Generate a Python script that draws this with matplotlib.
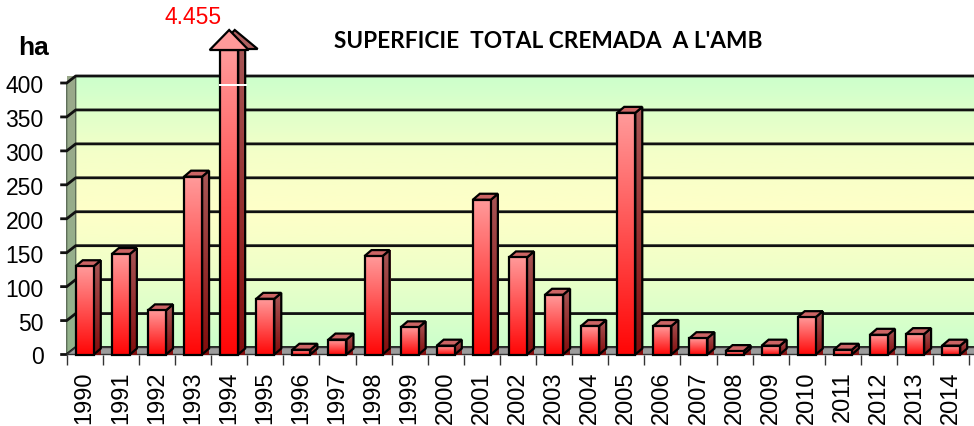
import numpy as np
import matplotlib
matplotlib.use("Agg")
import matplotlib.pyplot as plt
from matplotlib.patches import Polygon, Rectangle
from matplotlib.colors import LinearSegmentedColormap

# ---- data -------------------------------------------------------------
years = [str(y) for y in range(1990, 2015)]
hectares = [130, 148, 65, 262, 4455, 82, 7, 22, 145, 40, 13, 228, 143,
            88, 42, 356, 42, 24, 5, 13, 55, 7, 29, 30, 13]
y_ticks = [0, 50, 100, 150, 200, 250, 300, 350, 400]
title = "SUPERFICIE  TOTAL CREMADA  A L'AMB"
unit_label = "ha"
peak_label = "4.455"

# ---- layout (pixels, measured from the top-left corner) -----------------
W, H, DPI = 974, 427, 100
X0, X1 = 66.7, 969.2          # front plane left / right
Y0, Y1 = 355.5, 84.0          # front plane value 0 / value 400
WALL_DX, WALL_DY = 9.0, 7.0   # depth of the back wall
BAR_DX, BAR_DY = 7.0, 6.0     # depth of each bar
BAR_W = 0.5
ARROW_BASE_PX, ARROW_TIP_PX = 51.0, 31.0
EDGE = 1.6

plt.rcParams["font.family"] = ["Liberation Sans", "DejaVu Sans"]
fig = plt.figure(figsize=(W / DPI, H / DPI), dpi=DPI)
fig.patch.set_facecolor("white")
ax = fig.add_axes([X0 / W, 1 - Y0 / H, (X1 - X0) / W, (Y0 - Y1) / H])
ax.patch.set_visible(False)
for s in ax.spines.values():
    s.set_visible(False)

n = len(years)
xmin, xmax = -0.5, n - 0.5
ymax = y_ticks[-1]
sx = (xmax - xmin) / (X1 - X0)   # data units per pixel
sy = ymax / (Y0 - Y1)

# ---- back wall with vertical green/yellow gradient ---------------------
wall_cmap = LinearSegmentedColormap.from_list(
    "wall", [(0.0, "#ccffcc"), (0.3, "#f0ffc8"), (0.5, "#ffffc8"),
             (0.72, "#f4ffc8"), (1.0, "#ccffcc")])
grad = np.linspace(0, 1, 256).reshape(-1, 1)
ax.imshow(grad, cmap=wall_cmap, origin="lower", aspect="auto",
          extent=[xmin + WALL_DX * sx, xmax + WALL_DX * sx + 1,
                  WALL_DY * sy, ymax + WALL_DY * sy],
          zorder=0, clip_on=False, interpolation="bilinear")

# left side wall
left_cmap = LinearSegmentedColormap.from_list("lwall", ["#93b38c", "#9aa88a"])
left_wall = Polygon([(xmin, 0), (xmin, ymax),
                     (xmin + WALL_DX * sx, ymax + WALL_DY * sy),
                     (xmin + WALL_DX * sx, WALL_DY * sy)],
                    closed=True, facecolor="none", edgecolor="#5f6f5a",
                    lw=1.0, zorder=1.1, clip_on=False)
ax.add_patch(left_wall)
lw_im = ax.imshow(grad, cmap=left_cmap, origin="lower", aspect="auto",
                  extent=[xmin, xmin + WALL_DX * sx, 0, ymax + WALL_DY * sy],
                  zorder=1, clip_on=False)
lw_im.set_clip_path(left_wall)

# gridlines: tick on the front, slant across the side wall, back wall line
for t in y_ticks:
    ax.plot([xmin - 6.5 * sx, xmin, xmin + WALL_DX * sx, xmax + WALL_DX * sx + 1],
            [t, t, t + WALL_DY * sy, t + WALL_DY * sy],
            color="#111111", lw=2.0, zorder=1.5, clip_on=False,
            solid_capstyle="butt")

# floor
floor = Polygon([(xmin, 0), (xmax + 1, 0),
                 (xmax + 1 + WALL_DX * sx, WALL_DY * sy),
                 (xmin + WALL_DX * sx, WALL_DY * sy)],
                closed=True, facecolor="#9c9c9c", edgecolor="#333333",
                lw=1.0, zorder=2, clip_on=False)
ax.add_patch(floor)

# ---- bars ---------------------------------------------------------------
front_cmap = LinearSegmentedColormap.from_list("front", ["#ff0505", "#ff9a9a"])
side_cmap = LinearSegmentedColormap.from_list("side", ["#820c0c", "#a85656"])
top_color = "#cc6464"
arrow_base = (Y0 - ARROW_BASE_PX) * sy
arrow_tip = (Y0 - ARROW_TIP_PX) * sy
bdx, bdy = BAR_DX * sx, BAR_DY * sy

for i, v in enumerate(hectares):
    z = 3 + i * 0.01
    broken = v > ymax
    h = arrow_base if broken else v
    x0, x1 = i - BAR_W / 2, i + BAR_W / 2

    # side face
    side = Polygon([(x1, 0), (x1, h), (x1 + bdx, h + bdy), (x1 + bdx, bdy)],
                   closed=True, facecolor="none", edgecolor="black",
                   lw=EDGE, zorder=z + 0.002, clip_on=False)
    ax.add_patch(side)
    im = ax.imshow(grad, cmap=side_cmap, origin="lower", aspect="auto",
                   extent=[x1, x1 + bdx, 0, h + bdy], zorder=z + 0.001,
                   clip_on=False)
    im.set_clip_path(side)

    # top face
    if not broken:
        ax.add_patch(Polygon([(x0, h), (x1, h), (x1 + bdx, h + bdy),
                              (x0 + bdx, h + bdy)], closed=True,
                             facecolor=top_color, edgecolor="black", lw=EDGE,
                             zorder=z + 0.003, clip_on=False))

    # front face
    ax.imshow(grad, cmap=front_cmap, origin="lower", aspect="auto",
              extent=[x0, x1, 0, h], zorder=z + 0.004, clip_on=False)
    ax.add_patch(Rectangle((x0, 0), BAR_W, h, facecolor="none",
                           edgecolor="black", lw=EDGE, zorder=z + 0.005,
                           clip_on=False))

    if broken:
        # axis break across the column
        gap_y = (Y0 - 87.0) * sy
        ax.add_patch(Rectangle((x0 - 1.5 * sx, gap_y), BAR_W + bdx + 3 * sx,
                               1.6 * sy, facecolor="white", edgecolor="none",
                               zorder=z + 0.006, clip_on=False))
        # arrow head with its dark depth face
        hw = 19.5 * sx
        ax.add_patch(Polygon([(i - hw + bdx, arrow_base + 1.0 * sy),
                              (i + hw + bdx + 2 * sx, arrow_base + 1.0 * sy),
                              (i + bdx * 0.8, arrow_tip)],
                             closed=True, facecolor="#b06060",
                             edgecolor="black", lw=EDGE, zorder=z + 0.007,
                             clip_on=False))
        ax.add_patch(Polygon([(i - hw, arrow_base), (i + hw, arrow_base),
                              (i, arrow_tip)], closed=True,
                             facecolor="#ff9a9a", edgecolor="black", lw=EDGE,
                             zorder=z + 0.008, clip_on=False))

# ---- axes, ticks, labels -------------------------------------------------
ax.set_xlim(xmin, xmax)
ax.set_ylim(0, ymax)
ax.set_yticks(y_ticks)
ax.set_yticklabels([str(t) for t in y_ticks], fontsize=16.5)
ax.tick_params(axis="y", length=0, pad=16.5)
ax.set_xticks(range(n))
ax.set_xticklabels(years, rotation=90, fontsize=17)
ax.tick_params(axis="x", which="major", length=0, pad=11.5)
ax.set_xticks(np.arange(xmin, xmax + 0.5, 1.0), minor=True)
ax.tick_params(axis="x", which="minor", length=7, width=1.0, color="#333333")

fig.text(548 / W, 1 - 42 / H, title, fontfamily=["Lato", "DejaVu Sans"],
         fontweight="bold", fontsize=16.3, ha="center", va="center")
fig.text(33 / W, 1 - 48 / H, unit_label, fontweight="bold", fontsize=19,
         ha="center", va="center")
fig.text(193 / W, 1 - 17 / H, peak_label, color="#ff0000", fontsize=16.5,
         ha="center", va="center")

fig.savefig("out.png", dpi=DPI)
